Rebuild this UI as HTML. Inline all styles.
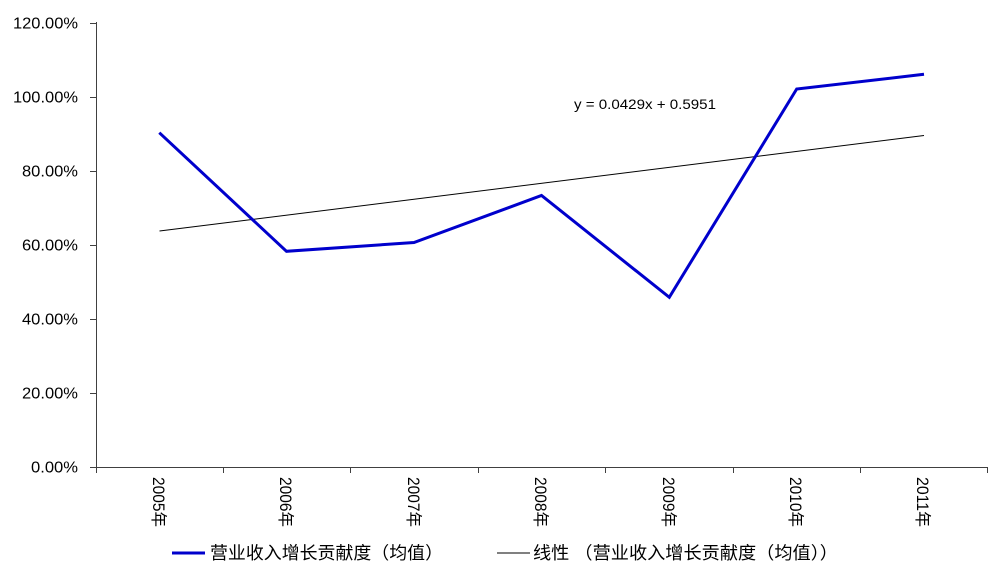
<!DOCTYPE html>
<html><head><meta charset="utf-8"><style>
html,body{margin:0;padding:0;background:#fff;}
svg{display:block;}
</style></head><body>
<svg width="996" height="573" viewBox="0 0 996 573" xmlns="http://www.w3.org/2000/svg">
<rect width="996" height="573" fill="#fff"/>
<g stroke="#404040" stroke-width="1" fill="none" shape-rendering="crispEdges">
<line x1="96.5" y1="22" x2="96.5" y2="467"/>
<line x1="96" y1="467.5" x2="988" y2="467.5"/>
<line x1="90" y1="23.5" x2="96" y2="23.5"/>
<line x1="90" y1="97.5" x2="96" y2="97.5"/>
<line x1="90" y1="171.5" x2="96" y2="171.5"/>
<line x1="90" y1="245.5" x2="96" y2="245.5"/>
<line x1="90" y1="319.5" x2="96" y2="319.5"/>
<line x1="90" y1="393.5" x2="96" y2="393.5"/>
<line x1="90" y1="467.5" x2="96" y2="467.5"/>
<line x1="96.5" y1="467" x2="96.5" y2="473"/>
<line x1="223.5" y1="467" x2="223.5" y2="473"/>
<line x1="350.5" y1="467" x2="350.5" y2="473"/>
<line x1="478.5" y1="467" x2="478.5" y2="473"/>
<line x1="605.5" y1="467" x2="605.5" y2="473"/>
<line x1="733.5" y1="467" x2="733.5" y2="473"/>
<line x1="860.5" y1="467" x2="860.5" y2="473"/>
<line x1="987.5" y1="467" x2="987.5" y2="473"/>
</g>
<g font-family="'Liberation Sans', Arial, sans-serif" font-size="15.5" fill="#000">
<text x="13" y="28.5" textLength="65" lengthAdjust="spacingAndGlyphs">120.00%</text>
<text x="13" y="102.5" textLength="65" lengthAdjust="spacingAndGlyphs">100.00%</text>
<text x="22" y="176.5" textLength="56" lengthAdjust="spacingAndGlyphs">80.00%</text>
<text x="22" y="250.5" textLength="56" lengthAdjust="spacingAndGlyphs">60.00%</text>
<text x="22" y="324.5" textLength="56" lengthAdjust="spacingAndGlyphs">40.00%</text>
<text x="22" y="398.5" textLength="56" lengthAdjust="spacingAndGlyphs">20.00%</text>
<text x="31" y="472.5" textLength="47" lengthAdjust="spacingAndGlyphs">0.00%</text>
</g>
<g font-family="'Liberation Sans', 'Noto Sans CJK SC', sans-serif" font-size="16.5" fill="#000">
<text transform="translate(153,477) rotate(90)" textLength="50" lengthAdjust="spacingAndGlyphs">2005年</text>
<text transform="translate(280,477) rotate(90)" textLength="50" lengthAdjust="spacingAndGlyphs">2006年</text>
<text transform="translate(408,477) rotate(90)" textLength="50" lengthAdjust="spacingAndGlyphs">2007年</text>
<text transform="translate(535,477) rotate(90)" textLength="50" lengthAdjust="spacingAndGlyphs">2008年</text>
<text transform="translate(663,477) rotate(90)" textLength="50" lengthAdjust="spacingAndGlyphs">2009年</text>
<text transform="translate(790,477) rotate(90)" textLength="50" lengthAdjust="spacingAndGlyphs">2010年</text>
<text transform="translate(917,477) rotate(90)" textLength="50" lengthAdjust="spacingAndGlyphs">2011年</text>
</g>
<line x1="159.5" y1="231" x2="924" y2="135.5" stroke="#000" stroke-width="1"/>
<polyline points="159.3,132.7 286.5,251.3 414,242.5 541.5,195.5 669.3,297.3 796.7,89 924,74.3" fill="none" stroke="#0000CC" stroke-width="3" stroke-linejoin="miter"/>
<text x="574" y="109" font-family="'Liberation Sans', sans-serif" font-size="14" fill="#000" textLength="142" lengthAdjust="spacingAndGlyphs">y = 0.0429x + 0.5951</text>
<line x1="172" y1="553" x2="205" y2="553" stroke="#0000CC" stroke-width="3"/>
<text x="210" y="559" font-family="'Liberation Sans', 'Noto Sans CJK SC', sans-serif" font-size="17.5" fill="#000" textLength="233" lengthAdjust="spacingAndGlyphs">营业收入增长贡献度（均值）</text>
<line x1="497" y1="553" x2="530" y2="553" stroke="#000" stroke-width="1"/>
<text x="533" y="559" font-family="'Liberation Sans', 'Noto Sans CJK SC', sans-serif" font-size="17.5" fill="#000" textLength="305" lengthAdjust="spacingAndGlyphs">线性 （营业收入增长贡献度（均值））</text>
</svg>
</body></html>
